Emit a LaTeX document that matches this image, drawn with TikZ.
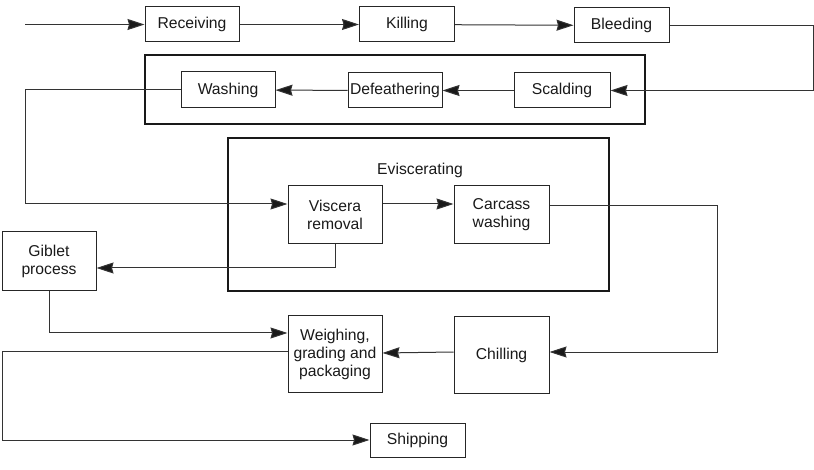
\documentclass[tikz,border=0pt]{standalone}
\usepackage{fontspec}
\setmainfont{Liberation Sans}
\usetikzlibrary{arrows.meta,calc}
\begin{document}
\begin{tikzpicture}[x=1pt,y=-1pt,
  line width=0.9pt, draw=black!85,
  box/.style={draw=black!85, line width=1pt, rectangle, inner sep=0pt, align=center,
     font=\fontsize{15.7}{18}\selectfont, text=black!90},
  group/.style={draw=black!90, line width=2pt},
  flow/.style={draw=black!80, line width=1pt, -{Stealth[length=17pt,width=11pt,inset=1.5pt,fill=black!90]}},
  plain/.style={draw=black!80, line width=1pt}]
\useasboundingbox (0,0) rectangle (814,470);
% group frames
\draw[group] (145,55) rectangle (645,124);
\draw[group] (228,138) rectangle (609,291);
\node[font=\fontsize{15.7}{18}\selectfont, text=black!90] (evlabel) at (420,170) {Eviscerating};
% nodes
\node[box, minimum width=94pt, minimum height=35pt] (rec) at (192,24.5) {Receiving};
\node[box, minimum width=95pt, minimum height=35pt] (kil) at (407,24.5) {Killing};
\node[box, minimum width=95pt, minimum height=35pt] (ble) at (621.5,25.5) {Bleeding};
\node[box, minimum width=96pt, minimum height=35pt] (sca) at (562,90.5) {Scalding};
\node[box, minimum width=94pt, minimum height=35pt] (def) at (395,90.5) {Defeathering};
\node[box, minimum width=94pt, minimum height=36pt] (was) at (228,90) {Washing};
\node[box, minimum width=94pt, minimum height=58pt] (vis) at (335,215) {Viscera\\removal};
\node[box, minimum width=95pt, minimum height=58pt] (car) at (501.5,215) {Carcass\\washing};
\node[box, minimum width=94pt, minimum height=59pt] (gib) at (49,261.5) {Giblet\\process};
\node[box, minimum width=95pt, minimum height=76pt] (chi) at (501.5,355) {Chilling};
\node[box, minimum width=94pt, minimum height=76pt] (wei) at (335,354) {Weighing,\\grading and\\packaging};
\node[box, minimum width=95pt, minimum height=34pt] (shi) at (417.5,440) {Shipping};
% free ends / corners
\coordinate (start) at (25,24.5);
\coordinate (c1) at (813,25.5);
\coordinate (c2) at (25,90);
\coordinate (c3) at (717,206);
\coordinate (c4) at (2,351);
% connectors
\draw[flow] (start) -- (rec);
\draw[flow] (rec) -- (kil);
\draw[flow] (kil) -- (ble);
\draw[flow] (ble.east) -- (c1) |- (sca.east);
\draw[flow] (sca) -- (def);
\draw[flow] (def) -- (was);
\draw[flow] (was.west) -- (c2) |- ([yshift=11pt]vis.west);
\draw[flow] ([yshift=11pt]vis.east) -- ([yshift=11pt]car.west);
\draw[flow] ([yshift=9pt]car.east) -- (c3) |- ([yshift=3pt]chi.east);
\draw[flow] ([yshift=3pt]chi.west) -- ([yshift=1pt]wei.east);
\draw[flow] (vis.south) |- ([yshift=-6.5pt]gib.east);
\draw[flow] (gib.south) |- ([yshift=21pt]wei.west);
\draw[flow] ([yshift=3pt]wei.west) -- (c4) |- (shi.west);
\end{tikzpicture}
\end{document}
